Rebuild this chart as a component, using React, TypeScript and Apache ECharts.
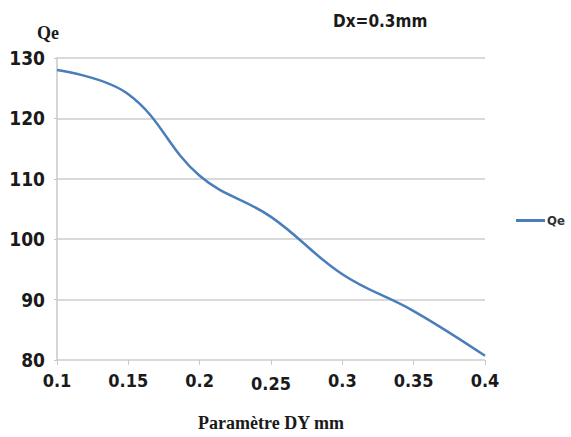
import React, { useEffect, useRef } from "react";
import * as echarts from "echarts";

const categories = ["0.1", "0.15", "0.2", "0.25", "0.3", "0.35", "0.4"];
const qeValues = [128.0, 124.0, 110.5, 103.7, 94.2, 88.1, 80.7];
const yTicks = { min: 80, max: 130, interval: 10 };
const titleText = "Dx=0.3mm";
const xName = "Paramètre DY mm";
const yName = "Qe";
const seriesName = "Qe";

const narrow = '"Liberation Sans Narrow", "DejaVu Sans Condensed", "Liberation Sans", sans-serif';
const serif = '"Liberation Serif", "DejaVu Serif", serif';

export default function App() {
  const ref = useRef<HTMLDivElement>(null);
  useEffect(() => {
    if (!ref.current) return;
    const chart = echarts.init(ref.current, undefined, { renderer: "svg" });
    chart.setOption({
      animation: false,
      backgroundColor: "#ffffff",
      title: {
        text: titleText,
        left: 333,
        top: 12,
        padding: 0,
        textStyle: { fontFamily: narrow, fontWeight: "bold", fontSize: 17, color: "#1a1a1a" },
      },
      legend: {
        orient: "vertical",
        left: 516,
        top: 214,
        padding: 0,
        itemWidth: 29,
        itemHeight: 3,
        itemGap: 4,
        icon: "rect",
        data: [seriesName],
        textStyle: { fontFamily: narrow, fontWeight: "bold", fontSize: 13, color: "#333333", padding: [0, 0, 0, -3] },
      },
      grid: { left: 57, right: 86, top: 58, bottom: 76, containLabel: false },
      xAxis: {
        type: "category",
        boundaryGap: false,
        data: categories.map((c) =>
          c === "0.25" ? { value: c, textStyle: { padding: [3, 0, 0, 0] } } : c
        ),
        name: xName,
        nameLocation: "middle",
        nameGap: 54,
        nameTextStyle: { fontFamily: serif, fontWeight: "bold", fontSize: 18, color: "#1a1a1a" },
        axisLine: { show: false },
        axisTick: { show: true, length: 5, alignWithLabel: true, lineStyle: { color: "#c8c8c8", width: 1 } },
        axisLabel: { margin: 11, fontFamily: narrow, fontWeight: "bold", fontSize: 18, color: "#1a1a1a", interval: 0 },
        splitLine: { show: false },
      },
      yAxis: {
        type: "value",
        min: yTicks.min,
        max: yTicks.max,
        interval: yTicks.interval,
        name: yName,
        nameLocation: "end",
        nameGap: 16,
        nameTextStyle: { fontFamily: serif, fontWeight: "bold", fontSize: 18, color: "#1a1a1a", padding: [0, 18, 0, 0] },
        axisLine: { show: true, lineStyle: { color: "#c8c8c8", width: 1.5 } },
        axisTick: { show: true, length: 3, lineStyle: { color: "#c8c8c8" } },
        axisLabel: { margin: 12, fontFamily: narrow, fontWeight: "bold", fontSize: 19, color: "#1a1a1a" },
        splitLine: { show: true, lineStyle: { color: "#d9d9d9", width: 2 } },
      },
      series: [
        {
          name: seriesName,
          type: "line",
          data: qeValues,
          smooth: 0.4,
          showSymbol: false,
          symbol: "none",
          lineStyle: { color: "#4a7ebb", width: 2.5 },
          itemStyle: { color: "#4a7ebb" },
        },
      ],
    });
    return () => chart.dispose();
  }, []);
  return <div ref={ref} style={{ width: 571, height: 437, position: "absolute", left: 0, top: 0 }} />;
}
